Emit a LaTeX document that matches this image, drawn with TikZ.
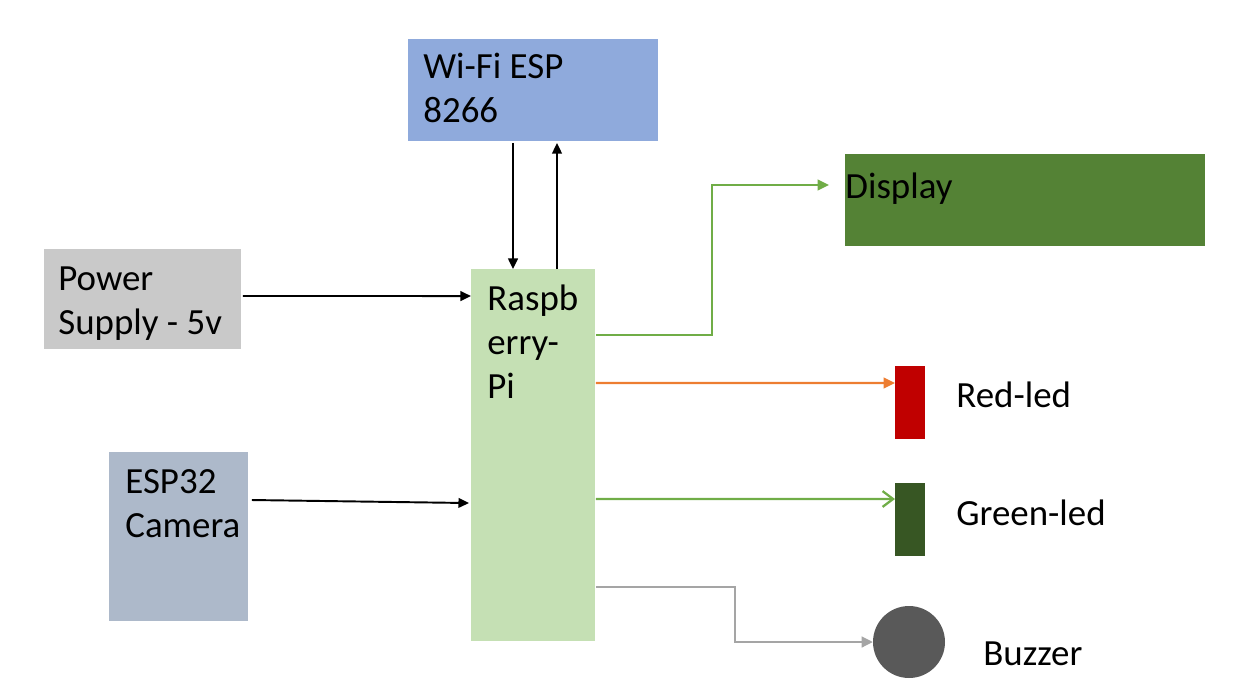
\documentclass[tikz,border=0pt]{standalone}
\usepackage{fontspec}
\setmainfont{Carlito}
\usepackage{tikz}
\usetikzlibrary{arrows.meta,calc,positioning}
\definecolor{wifiblue}{HTML}{8FAADC}
\definecolor{pigreen}{HTML}{C5E0B4}
\definecolor{psugrey}{HTML}{C9C9C9}
\definecolor{camblue}{HTML}{ADB9CA}
\definecolor{dispgreen}{HTML}{548235}
\definecolor{ledred}{HTML}{C00000}
\definecolor{ledgreen}{HTML}{375623}
\definecolor{buzzgrey}{HTML}{595959}
\definecolor{wireorange}{HTML}{ED7D31}
\definecolor{wiregreen}{HTML}{70AD47}
\definecolor{wiregrey}{HTML}{A5A5A5}

\begin{document}
\begin{tikzpicture}[x=0.02cm,y=-0.02cm,
  block/.style={draw=none,inner sep=0pt,outer sep=0pt},
  blocktext/.style={inner sep=0pt,anchor=base west,align=left,
    font=\fontsize{21pt}{25pt}\selectfont},
  blackwire/.style={line width=1.1pt,-{Triangle[length=6pt,width=5.5pt]}},
  colwire/.style={line width=1.3pt,-{Triangle[length=6.5pt,width=6pt]}}]
\useasboundingbox (0,0) rectangle (1248,700);

% blocks
\node[block,fill=wifiblue,minimum width=5cm,minimum height=2.04cm] (wifi) at (533,90) {};
\node[block,fill=pigreen,minimum width=2.48cm,minimum height=7.44cm] (rpi) at (533,455) {};
\node[block,fill=psugrey,minimum width=3.94cm,minimum height=2cm] (psu) at (142.5,299) {};
\node[block,fill=camblue,minimum width=2.78cm,minimum height=3.38cm] (cam) at (178.5,536.5) {};
\node[block,fill=dispgreen,minimum width=7.2cm,minimum height=1.84cm] (disp) at (1025,200) {};
\node[block,fill=ledred,minimum width=0.6cm,minimum height=1.46cm] (red) at (910,402.5) {};
\node[block,fill=ledgreen,minimum width=0.6cm,minimum height=1.46cm] (green) at (910,519.5) {};
\node[block,circle,fill=buzzgrey,minimum size=1.44cm] (buzz) at (909,642) {};

% texts (base anchor sits on the last line)
\node[blocktext] (wifitxt) at ($(wifi.north west)+(15,83)$) {Wi-Fi ESP\\8266};
\node[blocktext] (pitxt) at ($(rpi.north west)+(16,129)$) {Raspb\\erry-\\Pi};
\node[blocktext] (psutxt) at ($(psu.north west)+(14,85)$) {Power\\Supply - 5v};
\node[blocktext] (camtxt) at ($(cam.north west)+(16,85)$) {ESP32\\Camera};
\node[blocktext] (disptxt) at ($(disp.north west)+(0,44)$) {Display};
\node[blocktext] (redtxt) at (956,407) {Red-led};
\node[blocktext] (greentxt) at (956,525) {Green-led};
\node[blocktext] (buzztxt) at (983,665) {Buzzer};

% connectors
\draw[blackwire] ($(wifi.south)+(-20,2)$) -- ($(rpi.north)+(-20,0)$);
\draw[blackwire] ($(rpi.north)+(24,0)$) -- ($(wifi.south)+(24,2)$);
\draw[blackwire] ($(psu.east)+(2,-3)$) -- ($(rpi.north west)+(0,27)$);
\draw[blackwire] ($(cam.north east)+(4,48)$) -- ($(rpi.north west)+(-2,234)$);
\draw[colwire,wiregreen] ($(rpi.north east)+(1,66)$) -| ($(disp.north west)+(-133,31)$)
  -- ($(disp.north west)+(-16,31)$);
\draw[colwire,wireorange] ($(rpi.north east)+(1,114)$) -- ($(red.north west)+(0,17)$);
\draw[line width=1.3pt,wiregreen,-{Straight Barb[length=6pt,width=9pt]}]
  ($(rpi.north east)+(1,230)$) -- ($(green.north west)+(0,16)$);
\draw[colwire,wiregrey,line width=1.6pt] ($(rpi.north east)+(1,318)$) -| ($(buzz.west)+(-138,0)$)
  -- (buzz.west);
\end{tikzpicture}
\end{document}
